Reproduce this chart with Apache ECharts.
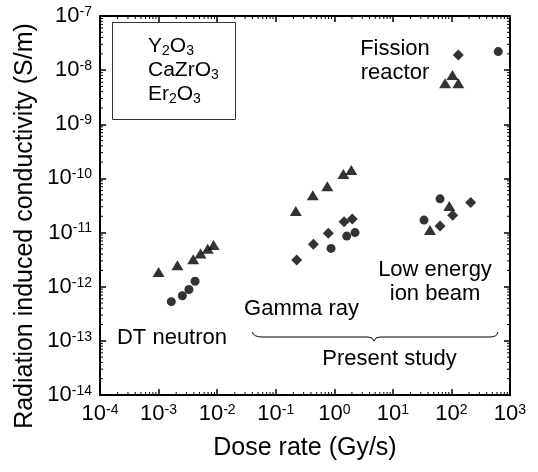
<!DOCTYPE html>
<html>
<head>
<meta charset="utf-8">
<script src="https://cdn.jsdelivr.net/npm/echarts@6/dist/echarts.min.js"></script>
<style>
  html, body { margin: 0; padding: 0; background: #fff; }
  #chart { width: 538px; height: 472px; }
</style>
</head>
<body>
<div id="chart"></div>
<script>
// dose rate (Gy/s) and conductivity (S/m)
const circleX = [1.65e-3, 2.55e-3, 3.3e-3, 4.2e-3, 0.88, 1.63, 2.26, 34, 64, 630]
const circleY = [5.3e-13, 6.8e-13, 8.9e-13, 1.26e-12, 5.1e-12, 8.6e-12, 1.0e-11, 1.7e-11, 4.2e-11, 2.2e-8]

const triangleX = [1.0e-3, 2.1e-3, 3.9e-3, 5.2e-3, 6.9e-3, 8.7e-3, 0.22, 0.43, 0.76, 1.43, 1.95, 43, 92, 78, 104, 131]
const triangleY = [1.86e-12, 2.5e-12, 3.2e-12, 4.1e-12, 5.0e-12, 5.9e-12, 2.5e-11, 4.9e-11, 7.2e-11, 1.21e-10, 1.43e-10, 1.12e-11, 3.1e-11, 5.7e-9, 8.1e-9, 5.7e-9]

const diamondX = [0.228, 0.44, 0.79, 1.47, 2.03, 64, 105, 213, 131]
const diamondY = [3.1e-12, 6.1e-12, 9.7e-12, 1.58e-11, 1.78e-11, 1.32e-11, 2.1e-11, 3.6e-11, 1.9e-8]

const xRange = [1e-4, 1e3]
const yRange = [1e-14, 1e-7]

const font = 'Liberation Sans, Arial, Helvetica, sans-serif'

const pairs = (xs, ys) => xs.map((x, i) => [x, ys[i]])

// minor ticks at 2..9 of every decade (log axes)
const minorTicks = (lo, hi) => {
  const out = []
  for (let d = lo; d < hi; d++) {
    for (let k = 2; k <= 9; k++) out.push(k * Math.pow(10, d))
  }
  return out
}
const xMinor = minorTicks(-4, 3)
const yMinor = minorTicks(-14, -7)

const powLabel = v => '{b|10}{s|' + Math.round(Math.log10(v)) + '}'

const tickRich = {
  b: { fontSize: 22, lineHeight: 22, fontFamily: font, color: '#000' },
  s: { fontSize: 14, lineHeight: 10, fontFamily: font, color: '#000', verticalAlign: 'top' }
}

const axisBase = {
  type: 'log',
  logBase: 10,
  splitNumber: 7,
  axisLine: { show: true, lineStyle: { color: '#000', width: 2 } },
  axisTick: { show: true, inside: true, length: 6, lineStyle: { color: '#000', width: 1.5 } },
  splitLine: { show: false },
  minorTick: { show: false }
}

const minorSeries = (vals, isX) => ({
  type: 'custom',
  silent: true,
  z: 1,
  data: vals.map(v => isX ? [v, 1e-10] : [1, v]),
  renderItem: (params, api) => {
    const cs = params.coordSys
    const st = { stroke: '#000', lineWidth: 1 }
    if (isX) {
      const x = api.coord([api.value(0), api.value(1)])[0]
      const yb = cs.y + cs.height
      return { type: 'group', children: [
        { type: 'line', shape: { x1: x, y1: yb, x2: x, y2: yb - 3 }, style: st },
        { type: 'line', shape: { x1: x, y1: cs.y, x2: x, y2: cs.y + 3 }, style: st }
      ] }
    }
    const y = api.coord([api.value(0), api.value(1)])[1]
    const xr = cs.x + cs.width
    return { type: 'group', children: [
      { type: 'line', shape: { x1: cs.x, y1: y, x2: cs.x + 3, y2: y }, style: st },
      { type: 'line', shape: { x1: xr, y1: y, x2: xr - 3, y2: y }, style: st }
    ] }
  }
})

const label = (text, x, y, size) => ({
  type: 'text', x: x, y: y, z: 10,
  style: {
    text: text, fontSize: size || 22, fontFamily: font, fill: '#000',
    align: 'center', verticalAlign: 'middle', textAlign: 'center', textVerticalAlign: 'middle',
    lineHeight: 24
  }
})

const subRich = {
  m: { fontSize: 21, lineHeight: 24, fontFamily: font, color: '#000' },
  u: { fontSize: 14, lineHeight: 11, fontFamily: font, color: '#000', verticalAlign: 'bottom' }
}
const formula = (text, y) => ({
  type: 'text', x: 148, y: y, z: 10,
  style: { text: text, rich: subRich, align: 'left', verticalAlign: 'top', textAlign: 'left', textVerticalAlign: 'top' }
})

// curly brace under the "present study" groups
const braceStyle = { fill: null, stroke: '#000', lineWidth: 1 }
const curve = (x1, y1, cx, cy, x2, y2) => ({
  type: 'bezierCurve', z: 10, shape: { x1, y1, cpx1: cx, cpy1: cy, x2, y2 }, style: braceStyle
})
const segment = (x1, y1, x2, y2) => ({
  type: 'line', z: 10, shape: { x1, y1, x2, y2 }, style: braceStyle
})

const option = {
  animation: false,
  backgroundColor: '#fff',
  grid: { left: 100, right: 28, top: 16, bottom: 77 },
  xAxis: [
    Object.assign({}, axisBase, {
      position: 'bottom', min: xRange[0], max: xRange[1],
      axisLabel: { margin: 8, formatter: powLabel, rich: tickRich, color: '#000' },
      name: 'Dose rate (Gy/s)', nameLocation: 'middle', nameGap: 41,
      nameTextStyle: { fontSize: 25, fontFamily: font, color: '#000' }
    }),
    Object.assign({}, axisBase, {
      position: 'top', min: xRange[0], max: xRange[1], axisLabel: { show: false }
    })
  ],
  yAxis: [
    Object.assign({}, axisBase, {
      position: 'left', min: yRange[0], max: yRange[1],
      axisLabel: { margin: 8, formatter: powLabel, rich: tickRich, color: '#000' }
    }),
    Object.assign({}, axisBase, {
      position: 'right', min: yRange[0], max: yRange[1], axisLabel: { show: false }
    })
  ],
  graphic: [
    {
      type: 'text', x: 25, y: 226, rotation: Math.PI / 2,
      style: {
        text: 'Radiation induced conductivity (S/m)', fontSize: 25, fontFamily: font, fill: '#000',
        align: 'center', verticalAlign: 'middle', textAlign: 'center', textVerticalAlign: 'middle'
      }
    },
    {
      type: 'rect', shape: { x: 112.5, y: 22.5, width: 123, height: 97 },
      style: { fill: '#fff', stroke: '#333', lineWidth: 1 }, z: 5
    },
    formula('{m|Y}{u|2}{m|O}{u|3}', 34),
    formula('{m|CaZrO}{u|3}', 58.5),
    formula('{m|Er}{u|2}{m|O}{u|3}', 82.5),
    label('Fission\nreactor', 395, 61),
    label('Gamma ray', 301.5, 309),
    label('Low energy\nion beam', 435, 282),
    label('Present study', 389.5, 359),
    label('DT neutron', 172, 338),
    curve(252, 332, 254, 337, 262, 337),
    segment(262, 337, 368, 337),
    curve(368, 337, 373, 337, 374, 341),
    curve(374, 341, 375, 337, 380, 337),
    segment(380, 337, 490, 337),
    curve(490, 337, 497, 337, 498, 332)
  ],
  series: [
    minorSeries(xMinor, true),
    minorSeries(yMinor, false),
    {
      name: 'Y2O3', type: 'scatter', symbol: 'circle', symbolSize: 9,
      itemStyle: { color: '#000' }, data: pairs(circleX, circleY), z: 3
    },
    {
      name: 'CaZrO3', type: 'scatter', symbol: 'triangle', symbolSize: [12, 10],
      itemStyle: { color: '#000' }, data: pairs(triangleX, triangleY), z: 3
    },
    {
      name: 'Er2O3', type: 'scatter', symbol: 'diamond', symbolSize: 11,
      itemStyle: { color: '#000' }, data: pairs(diamondX, diamondY), z: 3
    }
  ]
}

const chart = echarts.init(document.getElementById('chart'))
chart.setOption(option)
window.addEventListener('resize', () => chart.resize())
</script>
</body>
</html>
